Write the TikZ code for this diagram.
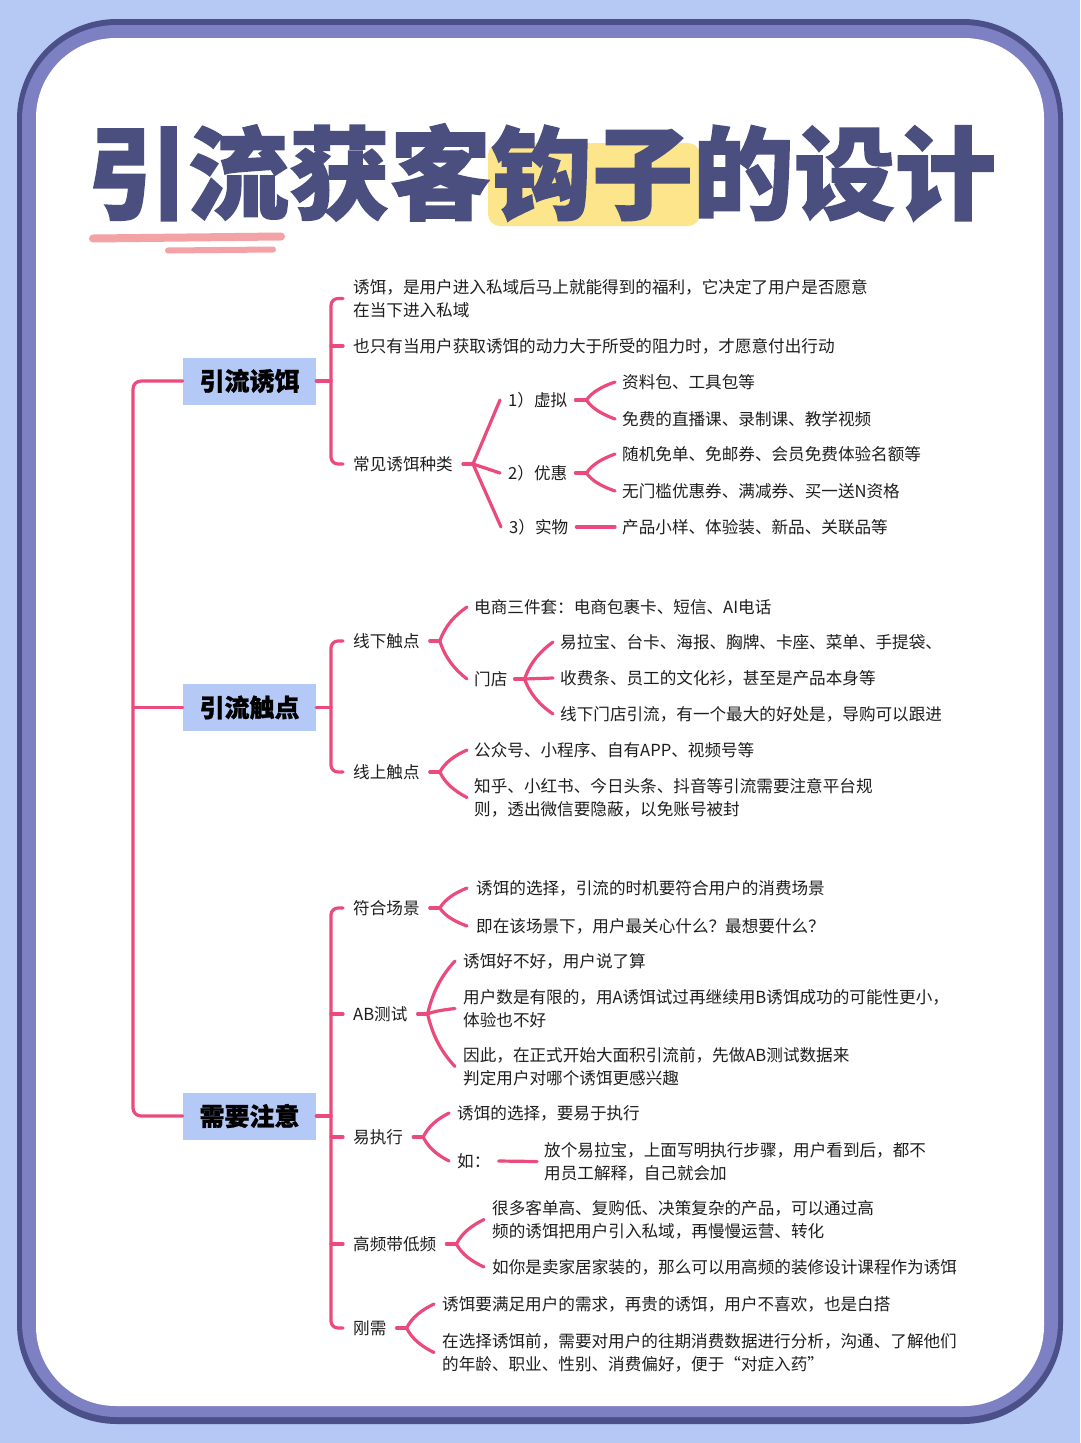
\documentclass[tikz,border=0pt]{standalone}
\usepackage{fontspec}
\setmainfont{Noto Sans CJK SC}
\newfontfamily\titlefont{Noto Sans CJK SC}[UprightFeatures={FakeBold=1.4}, BoldFeatures={FakeBold=1.4}]
\newfontfamily\boxfont{Noto Sans CJK SC}[BoldFeatures={FakeBold=1}]
\usetikzlibrary{calc}
\definecolor{bgblue}{HTML}{B6C8F4}
\definecolor{frdark}{HTML}{4B5088}
\definecolor{frlav}{HTML}{7D80C2}
\definecolor{titlec}{HTML}{4A4F80}
\definecolor{hlyellow}{HTML}{FDE58B}
\definecolor{ulpink}{HTML}{F3A3A6}
\definecolor{linkc}{HTML}{EB4A7C}
\definecolor{boxc}{HTML}{B5C9F6}
\definecolor{txt}{HTML}{1E1E1E}
\newcommand\bodyfont{\fontsize{16.6}{23}\selectfont}
\tikzset{
  link/.style={draw=linkc, line width=3.2pt, line cap=round, line join=round},
  mainbox/.style={fill=boxc, minimum width=133pt, minimum height=47pt, inner sep=0pt,
    font=\boxfont\fontsize{25}{25}\selectfont\bfseries, text=black},
  lvlone/.style={anchor=west, inner xsep=10pt, inner ysep=2pt, font=\bodyfont, text=txt, align=left},
  leaf/.style={anchor=west, inner xsep=7pt, inner ysep=2pt, font=\bodyfont, text=txt, align=left},
}
\newcommand\fan[2]{\draw[link] let \p1=(#1), \p2=(#2) in (\p1) .. controls ({\x1+0.2*(\x2-\x1)},{\y1+0.45*(\y2-\y1)}) and ({\x2-0.45*(\x2-\x1)},{\y2-0.25*(\y2-\y1)}) .. (\p2);}
\begin{document}
\begin{tikzpicture}[x=1pt,y=-1pt]
\useasboundingbox (0,0) rectangle (1080,1443);
% background and frame
\fill[bgblue] (0,0) rectangle (1080,1443);
\fill[frdark, rounded corners=100pt] (17,19) rectangle (1063,1424);
\fill[frlav, rounded corners=95pt] (22,25) rectangle (1058,1417);
\fill[white, rounded corners=80pt] (36,38) rectangle (1044,1406);
% title
\fill[hlyellow, rounded corners=12pt] (488,143) rectangle (700,226);
\node[font=\titlefont\fontsize{101}{101}\selectfont\bfseries, text=titlec, inner sep=0pt] (title) at (541.5,172.5) {引流获客钩子的设计};
\draw[ulpink, line width=8pt, line cap=round] (93,238.5) -- (281,236.5);
\draw[ulpink, line width=6pt, line cap=round] (168,250.5) -- (273,249.5);

% main boxes
\node[mainbox] (b1) at (249.5,381) {引流诱饵};
\node[mainbox] (b2) at (249.5,707.5) {引流触点};
\node[mainbox] (b3) at (249.5,1116) {需要注意};
\coordinate (spine) at (133,700);
\draw[link, rounded corners=8pt] (b1.west) -| (spine) |- (b3.west);
\draw[link] (spine |- b2.west) -- (b2.west);

% ---------- section 1 ----------
\node[lvlone] (c11) at (343,298.5) {诱饵，是用户进入私域后马上就能得到的福利，它决定了用户是否愿意\\在当下进入私域};
\node[lvlone] (c12) at (343,346) {也只有当用户获取诱饵的动力大于所受的阻力时，才愿意付出行动};
\node[lvlone] (c13) at (343,464) {常见诱饵种类};
\draw[link] (b1.east) -- ++(15,0);
\draw[link, rounded corners=7pt] (c11.west) -- ++(-12,0) |- (c13.west);
\draw[link] (c12.west) -- ++(-12,0);

\draw[link] (c13.east) -- ++(10,0) coordinate (j13);
\node[leaf, inner xsep=8pt] (v1) at (500,400) {1）虚拟};
\node[leaf, inner xsep=8pt] (v2) at (500,473) {2）优惠};
\node[leaf, inner xsep=8pt] (v3) at (501,527) {3）实物};
\draw[link] (j13) -- (v1.west);
\draw[link] (j13) -- (v2.west);
\draw[link] (j13) -- (v3.west);

\draw[link] (v1.east) -- ++(11,0) coordinate (jv1);
\node[leaf] (v11) at (615,382) {资料包、工具包等};
\node[leaf] (v12) at (615,419) {免费的直播课、录制课、教学视频};
\fan{jv1}{v11.west}
\fan{jv1}{v12.west}

\draw[link] (v2.east) -- ++(11,0) coordinate (jv2);
\node[leaf] (v21) at (615,454) {随机免单、免邮券、会员免费体验名额等};
\node[leaf] (v22) at (615,491) {无门槛优惠券、满减券、买一送N资格};
\fan{jv2}{v21.west}
\fan{jv2}{v22.west}

\node[leaf] (v31) at (615,527) {产品小样、体验装、新品、关联品等};
\draw[link] (v3.east) -- (v31.west);

% ---------- section 2 ----------
\node[lvlone] (c21) at (343,641) {线下触点};
\node[lvlone] (c22) at (343,772) {线上触点};
\draw[link] (b2.east) -- ++(15,0);
\draw[link, rounded corners=7pt] (c21.west) -- ++(-12,0) |- (c22.west);

\draw[link] (c21.east) -- ++(10,0) coordinate (j21);
\node[leaf] (d1) at (467,607) {电商三件套：电商包裹卡、短信、AI电话};
\node[leaf] (d2) at (467,679) {门店};
\fan{j21}{d1.west}
\fan{j21}{d2.west}

\draw[link] (d2.east) -- ++(10,0) coordinate (jd2);
\node[leaf] (d21) at (553,642) {易拉宝、台卡、海报、胸牌、卡座、菜单、手提袋、};
\node[leaf] (d22) at (553,678) {收费条、员工的文化衫，甚至是产品本身等};
\node[leaf] (d23) at (553,714) {线下门店引流，有一个最大的好处是，导购可以跟进};
\fan{jd2}{d21.west}
\draw[link] (jd2) -- (d22.west);
\fan{jd2}{d23.west}

\draw[link] (c22.east) -- ++(10,0) coordinate (j22);
\node[leaf] (d3) at (467,750) {公众号、小程序、自有APP、视频号等};
\node[leaf] (d4) at (467,797.5) {知乎、小红书、今日头条、抖音等引流需要注意平台规\\则，透出微信要隐蔽，以免账号被封};
\fan{j22}{d3.west}
\fan{j22}{d4.west}

% ---------- section 3 ----------
\node[lvlone] (e1) at (343,908) {符合场景};
\node[lvlone] (e2) at (343,1014) {AB测试};
\node[lvlone] (e3) at (343,1137) {易执行};
\node[lvlone] (e4) at (343,1244) {高频带低频};
\node[lvlone] (e5) at (343,1328) {刚需};
\draw[link] (b3.east) -- ++(15,0);
\draw[link, rounded corners=7pt] (e1.west) -- ++(-12,0) |- (e5.west);
\draw[link] (e2.west) -- ++(-12,0);
\draw[link] (e3.west) -- ++(-12,0);
\draw[link] (e4.west) -- ++(-12,0);

\draw[link] (e1.east) -- ++(10,0) coordinate (je1);
\node[leaf, inner xsep=9pt] (f11) at (467,888) {诱饵的选择，引流的时机要符合用户的消费场景};
\node[leaf, inner xsep=9pt] (f12) at (467,926) {即在该场景下，用户最关心什么？最想要什么？};
\fan{je1}{f11.west}
\fan{je1}{f12.west}

\draw[link] (e2.east) -- ++(10,0) coordinate (je2);
\node[leaf, inner xsep=8pt] (f21) at (455,961) {诱饵好不好，用户说了算};
\node[leaf, inner xsep=8pt] (f22) at (455,1008.5) {用户数是有限的，用A诱饵试过再继续用B诱饵成功的可能性更小，\\体验也不好};
\node[leaf, inner xsep=8pt] (f23) at (455,1066.5) {因此，在正式开始大面积引流前，先做AB测试数据来\\判定用户对哪个诱饵更感兴趣};
\fan{je2}{f21.west}
\fan{je2}{f22.west}
\fan{je2}{f23.west}

\draw[link] (e3.east) -- ++(10,0) coordinate (je3);
\node[leaf, inner xsep=8pt] (f31) at (449,1113) {诱饵的选择，要易于执行};
\node[leaf, inner xsep=8pt] (f32) at (449,1161) {如：};
\fan{je3}{f31.west}
\fan{je3}{f32.west}
\node[leaf] (f33) at (537,1161.5) {放个易拉宝，上面写明执行步骤，用户看到后，都不\\用员工解释，自己就会加};
\draw[link] (f32.east) -- (f33.west);

\draw[link] (e4.east) -- ++(10,0) coordinate (je4);
\node[leaf, inner xsep=8pt] (f41) at (484,1219.5) {很多客单高、复购低、决策复杂的产品，可以通过高\\频的诱饵把用户引入私域，再慢慢运营、转化};
\node[leaf, inner xsep=8pt] (f42) at (484,1267) {如你是卖家居家装的，那么可以用高频的装修设计课程作为诱饵};
\fan{je4}{f41.west}
\fan{je4}{f42.west}

\draw[link] (e5.east) -- ++(10,0) coordinate (je5);
\node[leaf, inner xsep=8pt] (f51) at (434,1304) {诱饵要满足用户的需求，再贵的诱饵，用户不喜欢，也是白搭};
\node[leaf, inner xsep=8pt] (f52) at (434,1352.5) {在选择诱饵前，需要对用户的往期消费数据进行分析，沟通、了解他们\\的年龄、职业、性别、消费偏好，便于“对症入药”};
\fan{je5}{f51.west}
\fan{je5}{f52.west}
\end{tikzpicture}
\end{document}
